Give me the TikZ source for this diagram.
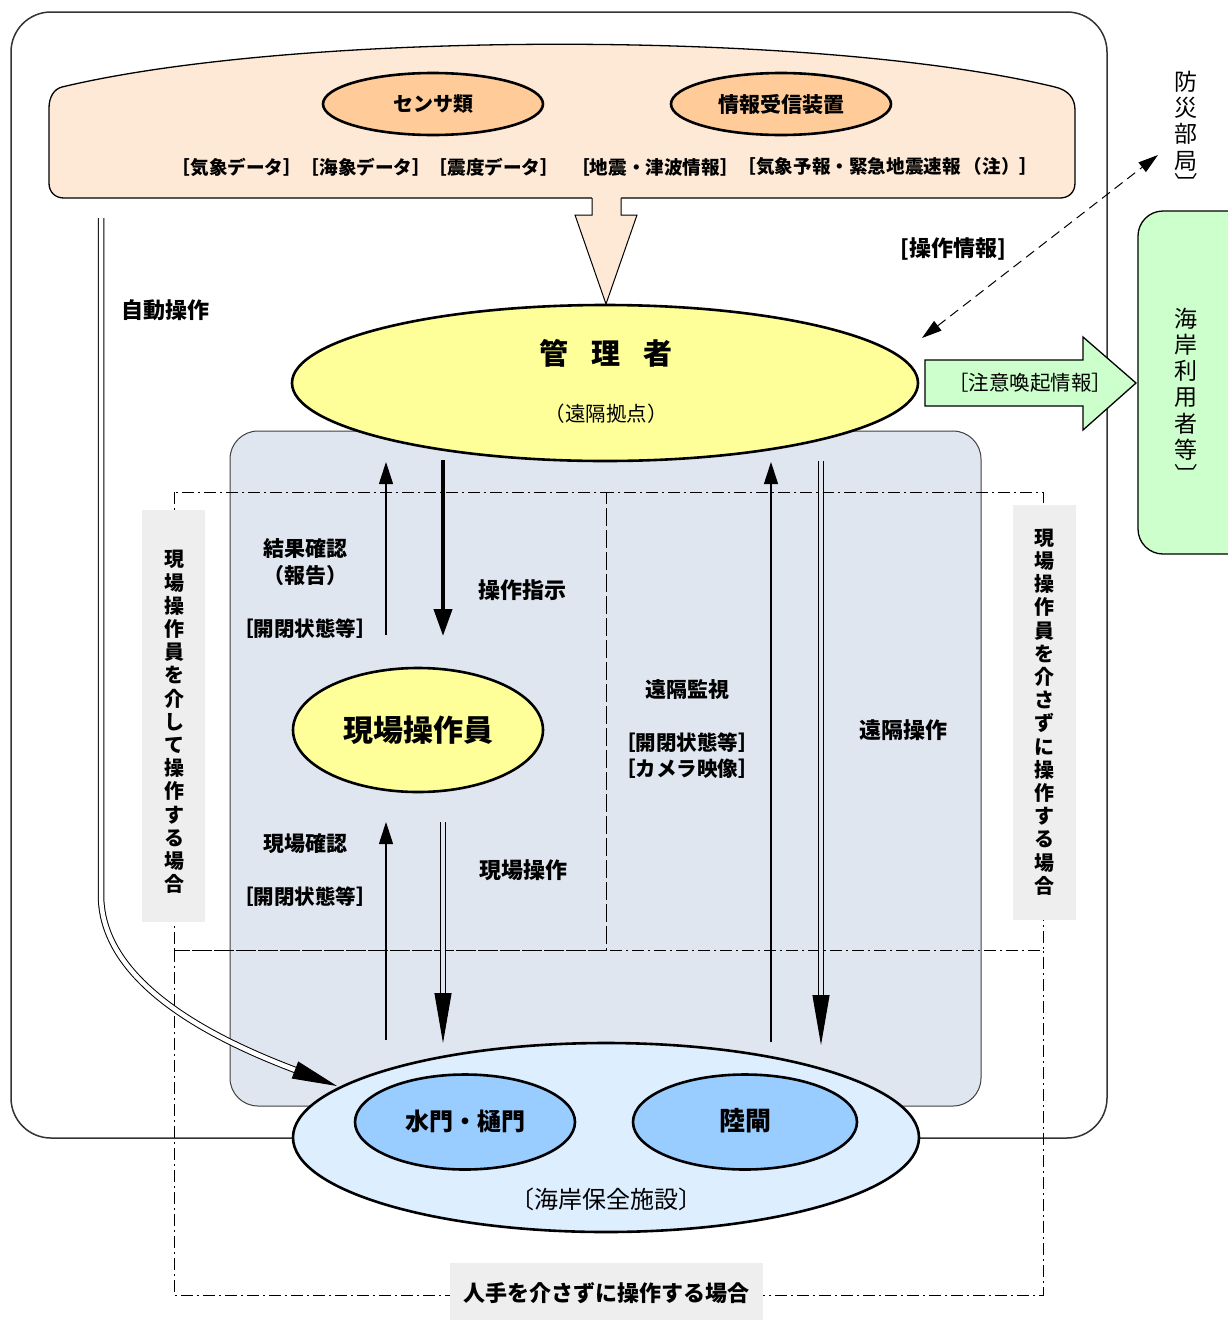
\documentclass[tikz,border=0pt]{standalone}
\usepackage{fontspec}
\setmainfont{Noto Sans CJK JP}
\usetikzlibrary{arrows.meta,shapes.geometric}
\definecolor{peach}{HTML}{FDE9D6}
\definecolor{peachE}{HTML}{FFCC99}
\definecolor{yel}{HTML}{FFFF99}
\definecolor{bluegray}{HTML}{E0E6EF}
\definecolor{lblue}{HTML}{DDEEFF}
\definecolor{mblue}{HTML}{99CCFF}
\definecolor{lgreen}{HTML}{CCFFCC}
\definecolor{lgray}{HTML}{EEEEEE}
\newcommand\fsz[2]{\fontsize{#1pt}{#2pt}\selectfont}
\tikzset{
  ell/.style={ellipse, draw=black, line width=2.6pt, inner sep=0pt},
  bl/.style={inner sep=0pt, align=center, font=\bfseries\fsz{21}{25}},
  rg/.style={inner sep=0pt, align=center, font=\fsz{20.5}{24}},
  dashdot/.style={line width=1pt, dash pattern=on 12pt off 4pt on 2pt off 4pt},
  thinarrow/.style={line width=1.1pt, -{Triangle[width=14pt,length=22pt]}},
  dblline/.style={line width=1pt, double=bluegray, double distance=4.5pt},
  bighead/.style={line width=1pt, -{Triangle[width=17pt,length=50pt]}},
  vbl/.style={inner sep=0pt, align=center, font=\bfseries\fsz{20}{23.2}},
  vrg/.style={inner sep=0pt, align=center, font=\fsz{23}{26.3}},
  graybox/.style={fill=lgray, draw=none, inner sep=0pt},
  datalbl/.style={inner sep=0pt, align=center, font=\bfseries\fsz{18.6}{22}},
  statelbl/.style={inner sep=0pt, align=center, font=\bfseries\fsz{20.5}{24}},
}
\begin{document}
\begin{tikzpicture}[x=1pt,y=-1pt]
\useasboundingbox (0,0) rectangle (1228,1320);
\clip (0,0) rectangle (1228,1320);

% outer frame
\draw[line width=1.5pt, draw=black!80, rounded corners=40pt] (11,12) rectangle (1107,1138);

% peach information area
\draw[fill=peach, line width=1.3pt]
  (62,87) .. controls (300,30) and (820,30) .. (1055,87)
  .. controls (1068,90) and (1075,98) .. (1075,110)
  -- (1075,183) .. controls (1075,193) and (1068,198) .. (1060,198)
  -- (64,198) .. controls (55,198) and (49,192) .. (49,183)
  -- (49,108) .. controls (49,97) and (54,89) .. (62,87) -- cycle;
\node[ell, fill=peachE, minimum width=220, minimum height=62] (sensor) at (433,104) {};
\node[bl, font=\bfseries\fsz{20}{24}] (sensorT) at (433,104) {センサ類};
\node[ell, fill=peachE, minimum width=220, minimum height=62] (recv) at (781,104) {};
\node[bl, font=\bfseries\fsz{21}{24}] (recvT) at (781,104) {情報受信装置};
\node[datalbl] (d1) at (237,167) {［気象データ］};
\node[datalbl] (d2) at (366,167) {［海象データ］};
\node[datalbl] (d3) at (494,167) {［震度データ］};
\node[datalbl] (d4) at (655,167) {［地震・津波情報］};
\node[datalbl] (d5) at (888,167) {［気象予報・緊急地震速報\,（注）］};

% block arrow peach
\fill[peach] (592,196) -- (592,215) -- (575,215) -- (606,304) -- (637,215) -- (621,215) -- (621,196) -- cycle;
\draw[line width=1pt, line join=miter] (592,198) -- (592,215) -- (575,215) -- (606,304) -- (637,215) -- (621,215) -- (621,198);

% blue gray area
\draw[fill=bluegray, line width=1pt, draw=black!75, rounded corners=28pt] (230,431) rectangle (981,1106);

% dash-dot regions
\draw[dashdot] (174,492) rectangle (606,950);
\draw[dashdot] (606,492) rectangle (1043,950);
\draw[dashdot] (174,950) rectangle (1043,1295);

% side labels
\node[graybox, minimum width=63, minimum height=412] (lbox) at (173.5,716) {};
\node[vbl] (lboxT) at (174,722) {現\\場\\操\\作\\員\\を\\介\\し\\て\\操\\作\\す\\る\\場\\合};
\node[graybox, minimum width=63, minimum height=415] (rbox) at (1044.5,712.5) {};
\node[vbl] (rboxT) at (1044,712) {現\\場\\操\\作\\員\\を\\介\\さ\\ず\\に\\操\\作\\す\\る\\場\\合};
\node[graybox, minimum width=313, minimum height=58] (bbox) at (606.5,1292) {};
\node[bl, font=\bfseries\fsz{22}{26}] (bboxT) at (606,1293) {人手を介さずに操作する場合};

% manager
\node[ell, fill=yel, minimum width=626, minimum height=156] (mgr) at (605,383) {};
\node[bl, font=\bfseries\fsz{29}{32}] (mgrT) at (606,353) {管\hspace{23pt}理\hspace{23pt}者};
\node[rg] (mgrS) at (606,414) {（遠隔拠点）};

% automatic operation
\node[bl, font=\bfseries\fsz{22}{26}] (autoT) at (165,310) {自動操作};
\coordinate (a1) at (101,218);
\coordinate (a2) at (101,895);
\coordinate (a3) at (298,1071);
\coordinate (aB) at (295,1070);
\coordinate (aT) at (337,1086);
\draw[line width=1pt, double=white, double distance=4.5pt] (a1) -- (a2) .. controls (101,985) and (218,1041) .. (a3);
\draw[line width=1pt, -{Triangle[width=18pt,length=45pt]}] (aB) -- (aT);

% arrows between manager and field operator
\coordinate (u1s) at (386,635); \coordinate (u1e) at (386,462);
\draw[thinarrow] (u1s) -- (u1e);
\coordinate (t1s) at (443,460); \coordinate (t1e) at (443,636);
\draw[line width=4pt, -{Triangle[width=18pt,length=27pt]}] (t1s) -- (t1e);
\node[bl] (r1) at (305,549) {結果確認};
\node[bl] (r2) at (305,576) {（報告）};
\node[statelbl] (r3) at (305,629) {［開閉状態等］};
\node[bl, font=\bfseries\fsz{22}{26}] (o1) at (522,590) {操作指示};

% field operator
\node[ell, fill=yel, minimum width=250, minimum height=124] (op) at (418,730) {};
\node[bl, font=\bfseries\fsz{30}{34}] (opT) at (418,730) {現場操作員};

% arrows between field operator and facilities
\coordinate (u2s) at (386,1040); \coordinate (u2e) at (386,822);
\draw[thinarrow] (u2s) -- (u2e);
\coordinate (d2s) at (443,822); \coordinate (d2m) at (443,1000);
\coordinate (d2b) at (443,993); \coordinate (d2e) at (443,1043);
\draw[dblline] (d2s) -- (d2m);
\draw[bighead] (d2b) -- (d2e);
\node[bl] (c1) at (305,844) {現場確認};
\node[statelbl] (c2) at (305,897) {［開閉状態等］};
\node[bl, font=\bfseries\fsz{22}{26}] (c3) at (523,870) {現場操作};

% remote monitoring / operation
\coordinate (u3s) at (771,1042); \coordinate (u3e) at (771,462);
\draw[thinarrow] (u3s) -- (u3e);
\coordinate (d3s) at (821,461); \coordinate (d3m) at (821,1002);
\coordinate (d3b) at (821,995); \coordinate (d3e) at (821,1045);
\draw[dblline] (d3s) -- (d3m);
\draw[bighead] (d3b) -- (d3e);
\node[bl] (m1) at (687,690) {遠隔監視};
\node[statelbl] (m2) at (687,743) {［開閉状態等］};
\node[statelbl] (m3) at (687,769) {［カメラ映像］};
\node[bl, font=\bfseries\fsz{22}{26}] (m4) at (903,730) {遠隔操作};

% coastal facilities
\node[ell, fill=lblue, minimum width=626, minimum height=189] (fac) at (606,1137.5) {};
\node[ell, fill=mblue, minimum width=220, minimum height=95] (gate1) at (465,1122) {};
\node[bl, font=\bfseries\fsz{24}{28}] (gate1T) at (465,1121) {水門・樋門};
\node[ell, fill=mblue, minimum width=224, minimum height=95] (gate2) at (745,1122) {};
\node[bl, font=\bfseries\fsz{26}{30}] (gate2T) at (745,1121) {陸閘};
\node[rg, font=\fsz{24}{28}] (facT) at (606,1199) {〔海岸保全施設〕};

% right side
\coordinate (da) at (922,338); \coordinate (db) at (1158,155);
\draw[line width=1pt, dash pattern=on 10pt off 6pt, {Triangle[width=12pt,length=20pt]}-{Triangle[width=12pt,length=20pt]}] (da) -- (db);
\node[bl, font=\bfseries\fsz{22}{26}] (opinfo) at (953,249) {[操作情報]};
\node[vrg] (bousai) at (1186,121) {防\\災\\部\\局};
\node[inner sep=0pt, rotate=-90, font=\fsz{23}{26}] (bousaiB) at (1186,184) {〕};

\draw[fill=lgreen, line width=1.3pt, line join=miter] (925,360) -- (1083,360) -- (1083,337) -- (1136,383) -- (1083,430) -- (1083,406) -- (925,406) -- cycle;
\node[rg] (warn) at (1030,383) {［注意喚起情報］};
\draw[fill=lgreen, line width=1.3pt, rounded corners=25pt] (1138,211) rectangle (1262,554);
\node[vrg] (users) at (1186,384) {海\\岸\\利\\用\\者\\等};
\node[inner sep=0pt, rotate=-90, font=\fsz{23}{26}] (usersB) at (1186,475) {〕};
\end{tikzpicture}
\end{document}
